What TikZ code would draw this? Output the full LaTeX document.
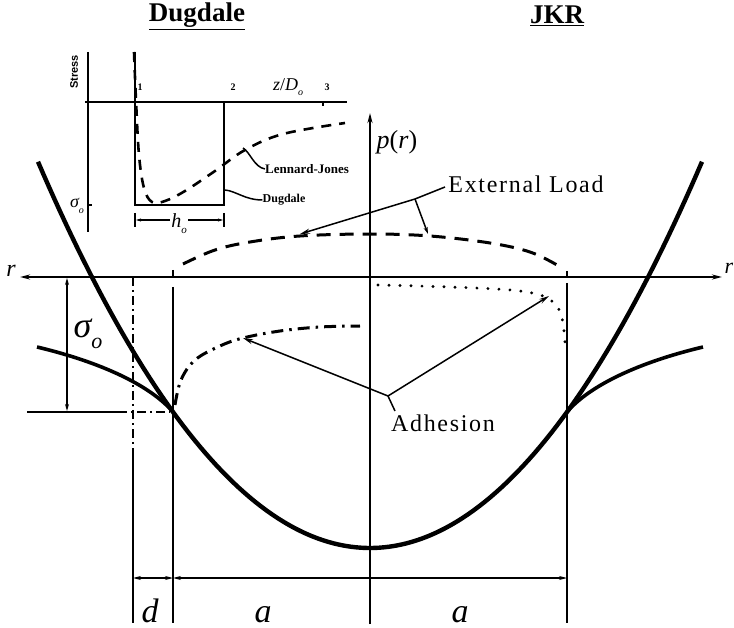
\documentclass[tikz,border=0pt]{standalone}
\usepackage{fontspec}
\setmainfont{Liberation Serif}
\newfontfamily\sansfam{Liberation Sans}
\usetikzlibrary{arrows.meta}
\newcommand\myfs[1]{\fontsize{#1}{#1}\selectfont}
\begin{document}
\begin{tikzpicture}[x=1pt,y=-1pt,
  thickcurve/.style={line width=4.4pt},
  tailcurve/.style={line width=3.6pt},
  axisline/.style={line width=2pt},
  thinline/.style={line width=1.2pt},
  leader/.style={line width=1.5pt},
  dashcurve/.style={line width=3pt, dash pattern=on 14pt off 9pt},
  dotcurve/.style={line width=3.2pt, dash pattern=on 0pt off 11pt, line cap=round},
  dashdotcurve/.style={line width=3pt, dash pattern=on 12pt off 6pt on 2.5pt off 6pt},
  ljcurve/.style={line width=2.6pt, dash pattern=on 10pt off 8pt},
  bigtip/.style={-{Stealth[length=10pt,width=5pt]}},
  smalltip/.style={-{Stealth[length=7pt,width=4pt]}},
  lbl/.style={inner sep=0pt},
  bigtext/.style={lbl, font=\myfs{24}\addfontfeature{LetterSpace=7}},
  insettext/.style={lbl, font=\bfseries\myfs{13}},
  ticktext/.style={lbl, font=\bfseries\myfs{10}},
  titletext/.style={lbl, font=\bfseries\myfs{27}}
]
\useasboundingbox (0,0) rectangle (734,628);

% ---------- titles ----------
\node[titletext] (tdug) at (197,16) {\underline{Dugdale}};
\node[titletext] (tjkr) at (557,16) {\underline{JKR}};

% ---------- main axes ----------
\coordinate (rl) at (20,277);
\coordinate (rr) at (722,277);
\draw[axisline,{Stealth[length=10pt,width=5pt]}-{Stealth[length=10pt,width=5pt]}] (rl) -- (rr);
\node[lbl, font=\itshape\myfs{24}] (rlabl) at (11,271) {r};
\node[lbl, font=\itshape\myfs{22}] (rlabr) at (729,268) {r};
\coordinate (pbot) at (370,624);
\coordinate (ptop) at (370,113);
\draw[axisline,bigtip] (pbot) -- (ptop);
\node[lbl, font=\myfs{26}] (plab) at (397,142) {\textit{p}(\textit{r})};

% ---------- vertical guide lines ----------
\coordinate (va1) at (133,277); \coordinate (va2) at (133,450); \coordinate (va3) at (133,623);
\draw[thinline, dash pattern=on 9pt off 4pt on 2pt off 4pt] (va1) -- (va2);
\draw[thinline] (va2) -- (va3);
\coordinate (vb0) at (173,270); \coordinate (vb1) at (173,277);
\coordinate (vb2) at (173,287); \coordinate (vb3) at (173,623);
\draw[thinline] (vb0) -- (vb1);
\draw[thinline] (vb2) -- (vb3);
\coordinate (vc0) at (567,271); \coordinate (vc1) at (567,277);
\coordinate (vc2) at (567,283); \coordinate (vc3) at (567,623);
\draw[thinline] (vc0) -- (vc1);
\draw[thinline] (vc2) -- (vc3);

% ---------- sigma_o dimension ----------
\coordinate (s1) at (67,278); \coordinate (s2) at (67,411);
\draw[thinline,{Stealth[length=7pt,width=4pt]}-{Stealth[length=7pt,width=4pt]}] (s1) -- (s2);
\coordinate (h1) at (27,412); \coordinate (h2) at (118,412); \coordinate (h3) at (170,412);
\draw[thinline] (h1) -- (h2);
\draw[thinline, dash pattern=on 9pt off 4pt on 2pt off 4pt] (h2) -- (h3);
\node[lbl, font=\itshape\myfs{36}] (sig) at (88,334) {σ\raisebox{-0.32em}{\myfs{22}o}};

% ---------- main curves ----------
\draw[thickcurve] plot[domain=38:702, samples=120] (\x, {548-136*((\x-370)/197)*((\x-370)/197)});
\draw[tailcurve] (37,347) .. controls (100,362) and (150,385) .. (173,412);
\draw[tailcurve] (703,347) .. controls (640,362) and (590,385) .. (567,412);

% external load (dashed)
\draw[dashcurve] plot[smooth, tension=0.6] coordinates {(183,264) (215,250) (250,242) (300,236) (370,234) (430,236) (490,243) (530,252) (557,265)};
% JKR adhesion (dotted)
\draw[dotcurve] plot[smooth, tension=0.6] coordinates {(378,285) (450,287) (510,290) (540,295) (555,304) (562,318) (565,342)};
% Dugdale adhesion (dash-dot)
\draw[dashdotcurve] plot[smooth, tension=0.6] coordinates {(175,405) (181,380) (195,360) (220,346) (243,338) (280,331) (320,327) (360,326)};

% ---------- External Load ----------
\node[bigtext] (ext) at (526,184) {External Load};
\coordinate (e1) at (445,187);
\coordinate (knee) at (415,199);
\coordinate (el1) at (300,234);
\coordinate (el2) at (428,234);
\draw[leader] (e1) -- (knee);
\draw[leader,bigtip] (knee) -- (el1);
\draw[leader,smalltip] (knee) -- (el2);

% ---------- Adhesion ----------
\node[bigtext] (adh) at (443,423) {Adhesion};
\coordinate (jn) at (388,396);
\coordinate (a0) at (395,411);
\coordinate (ad1) at (243,338);
\coordinate (ad2) at (549,296);
\draw[leader] (jn) -- (a0);
\draw[leader,bigtip] (jn) -- (ad1);
\draw[leader,bigtip] (jn) -- (ad2);

% ---------- bottom dimensions ----------
\coordinate (d1) at (133,578); \coordinate (d2) at (173,578); \coordinate (d3) at (567,578);
\draw[thinline,{Stealth[length=8pt,width=4pt]}-{Stealth[length=8pt,width=4pt]}] (d1) -- (d2);
\draw[thinline,{Stealth[length=8pt,width=4pt]}-{Stealth[length=8pt,width=4pt]}] (d2) -- (d3);
\node[lbl, font=\itshape\myfs{34}, anchor=base] (dlab) at (150,622) {d};
\node[lbl, font=\itshape\myfs{34}, anchor=base] (alab1) at (263,622) {a};
\node[lbl, font=\itshape\myfs{34}, anchor=base] (alab2) at (460,622) {a};

% ---------- inset (Dugdale / Lennard-Jones) ----------
\coordinate (sa1) at (88,52); \coordinate (sa2) at (88,232);
\draw[thinline] (sa1) -- (sa2);
\coordinate (st1) at (88,205); \coordinate (st2) at (92,205);
\draw[thinline] (st1) -- (st2);
\coordinate (za0) at (85,102); \coordinate (za1) at (224,102); \coordinate (za2) at (347,102);
\draw[thinline] (za0) -- (za1);
\draw[line width=2pt] (za1) -- (za2);
\coordinate (zt1) at (323,102); \coordinate (zt2) at (323,106);
\draw[thinline] (zt1) -- (zt2);
\coordinate (w1) at (135,52); \coordinate (w2) at (135,205);
\coordinate (w3) at (224,205); \coordinate (w4) at (224,102);
\draw[line width=2.4pt] (w1) -- (w2) -- (w3) -- (w4);
\draw[ljcurve] plot[smooth, tension=0.6] coordinates {(134,52) (136,100) (139,155) (144,188) (152,202) (165,201) (185,191) (215,171) (245,150) (283,134) (345,123)};

\node[lbl, font=\sansfam\bfseries\myfs{11}, rotate=90] (stress) at (74,72) {Stress};
\node[lbl, font=\itshape\myfs{18}] (sigi) at (77,206) {σ\raisebox{-0.3em}{\myfs{10}o}};
\node[ticktext] (t1) at (140,87) {1};
\node[ticktext] (t2) at (233,87) {2};
\node[ticktext] (t3) at (327,87) {3};
\node[lbl, font=\myfs{18}] (zd) at (288,87) {\textit{z}/\textit{D}\raisebox{-0.3em}{\myfs{10}\textit{o}}};

% h_o dimension
\coordinate (hb1) at (135,213); \coordinate (hb2) at (135,227);
\coordinate (hb3) at (224,213); \coordinate (hb4) at (224,227);
\draw[thinline] (hb1) -- (hb2);
\draw[thinline] (hb3) -- (hb4);
\coordinate (hd1) at (136,220); \coordinate (hd2) at (223,220);
\draw[thinline,{Stealth[length=5pt,width=3pt]}-{Stealth[length=5pt,width=3pt]}] (hd1) -- (hd2);
\node[lbl, fill=white, inner sep=1pt, font=\itshape\myfs{20}] (ho) at (179,224) {h\raisebox{-0.3em}{\myfs{11}o}};

% inset labels with leaders
\node[insettext] (ljlab) at (307,169) {Lennard-Jones};
\coordinate (lj0) at (243,148);
\draw[leader] (ljlab.west) .. controls (254,167) and (250,152) .. (lj0);
\node[lbl, font=\bfseries\myfs{12}] (dglab) at (284,200) {Dugdale};
\coordinate (dg0) at (225,190);
\draw[leader] (dglab.west) .. controls (245,200) and (236,191) .. (dg0);
\end{tikzpicture}
\end{document}
